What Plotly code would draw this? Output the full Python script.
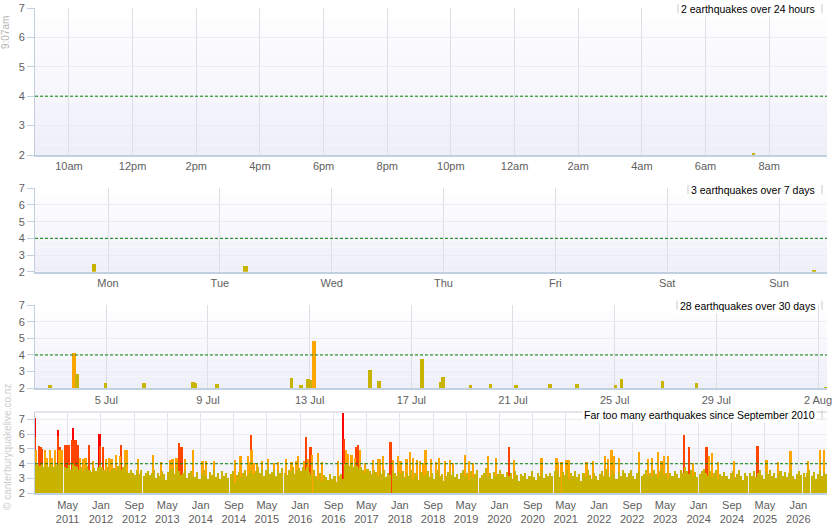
import pandas as pd
import plotly.graph_objects as go

# %%
# Last 30 days of quakes (NZ time) and their magnitudes
recent_times = ["2026-07-02 19:00", "2026-07-03 17:30", "2026-07-03 20:30", "2026-07-04 23:00",
                "2026-07-06 11:30", "2026-07-08 10:00", "2026-07-08 12:00", "2026-07-09 08:30",
                "2026-07-12 07:00", "2026-07-12 16:00", "2026-07-12 22:30", "2026-07-13 01:00",
                "2026-07-13 04:00", "2026-07-15 09:00", "2026-07-15 17:30", "2026-07-17 10:00",
                "2026-07-18 03:30", "2026-07-18 06:00", "2026-07-19 07:45", "2026-07-20 02:30",
                "2026-07-21 03:00", "2026-07-22 11:00", "2026-07-23 12:30", "2026-07-25 01:00",
                "2026-07-25 06:45", "2026-07-26 21:00", "2026-07-28 05:30", "2026-08-02 07:30"]
recent_mags = [2.2, 4.1, 2.86, 2.3,
               2.3, 2.36, 2.3, 2.24,
               2.6, 2.2, 2.56, 2.5,
               4.84, 3.1, 2.44, 3.76,
               2.36, 2.7, 2.2, 2.26,
               2.2, 2.26, 2.26, 2.2,
               2.56, 2.44, 2.3, 2.06]

# %%
# The bigger ones (M4+) since Sept 2010
spike_dates = ["2010-09-05", "2010-09-08", "2010-09-12", "2010-10-04", "2010-10-17", "2010-10-27", "2010-11-16", "2010-12-03", "2010-12-23",
               "2011-01-06", "2011-01-28", "2011-02-22", "2011-02-24", "2011-02-27", "2011-03-10", "2011-03-20", "2011-04-16", "2011-05-01", "2011-05-13",
               "2011-06-07", "2011-06-13", "2011-06-29", "2011-07-18", "2011-08-04", "2011-08-24", "2011-09-12", "2011-10-07", "2011-11-05", "2011-12-23", "2011-12-27",
               "2012-01-17", "2012-02-11", "2012-03-01", "2012-03-19", "2012-04-20", "2012-05-19", "2012-05-31", "2012-06-25", "2012-07-12", "2012-10-01",
               "2013-01-18", "2013-03-20", "2013-05-21", "2013-06-10", "2013-07-09", "2013-07-26", "2013-08-15", "2013-09-08", "2013-11-06", "2014-01-16", "2014-02-10", "2014-04-11",
               "2014-09-14", "2014-10-21", "2014-12-16", "2014-12-28", "2015-01-06", "2015-01-10", "2015-01-26", "2015-02-20", "2015-03-28", "2015-05-12", "2015-06-25", "2015-07-24", "2015-09-23", "2015-10-30", "2015-12-06", "2015-12-18",
               "2016-01-31", "2016-02-14", "2016-03-01", "2016-03-18", "2016-03-28", "2016-05-14", "2016-06-08", "2016-10-08", "2016-11-14", "2016-11-20", "2016-12-02", "2016-12-19",
               "2017-01-12", "2017-02-06", "2017-02-18", "2017-03-04", "2017-03-14", "2017-04-20", "2017-06-20", "2017-07-27", "2017-08-11", "2017-09-02", "2017-10-26", "2017-11-14", "2017-12-21",
               "2018-01-07", "2018-02-20", "2018-03-16", "2018-04-10", "2018-05-11", "2018-05-28", "2018-06-22", "2018-07-09", "2018-08-18", "2018-09-24", "2018-10-16", "2018-11-29",
               "2019-01-04", "2019-01-28", "2019-04-23", "2019-05-26", "2019-06-24", "2019-10-12", "2019-12-07", "2020-03-14", "2020-04-20", "2020-11-06",
               "2021-02-24", "2021-03-08", "2021-04-02", "2021-05-09", "2021-05-23", "2021-10-02", "2021-11-20", "2022-02-14", "2022-03-10", "2022-04-04", "2022-04-21", "2022-05-30", "2022-10-22", "2022-12-28",
               "2023-01-26", "2023-03-11", "2023-04-05", "2023-04-22", "2023-05-23", "2023-09-18", "2023-10-22", "2023-11-23", "2024-02-29", "2024-03-17", "2024-04-10", "2024-05-25", "2024-09-20",
               "2025-03-10", "2025-05-15", "2025-08-08", "2025-11-06", "2026-03-16", "2026-06-09", "2026-07-11"]
spike_mags = [7.1, 5.8, 4.9, 5.2, 5.15, 5.0, 4.9, 4.4, 4.9,
              4.4, 4.95, 6.3, 5.9, 4.9, 5.1, 4.9, 5.3, 5.3, 5.3,
              5.6, 6.4, 5.6, 5.3, 4.4, 4.3, 4.4, 5.3, 4.2, 6.0, 5.2,
              5.1, 4.3, 4.4, 4.3, 4.6, 4.5, 5.25, 4.9, 4.9, 4.3,
              4.6, 4.1, 4.25, 4.3, 4.4, 5.4, 5.15, 4.3, 4.9, 4.2, 4.2, 4.2,
              4.27, 4.5, 4.5, 4.1, 5.95, 4.9, 4.05, 4.05, 4.2, 4.3, 4.05, 4.1, 4.3, 4.1, 4.2, 4.5,
              4.2, 5.8, 4.3, 5.1, 4.6, 4.7, 4.15, 4.2, 7.8, 5.7, 4.9, 4.65,
              4.6, 4.4, 5.15, 5.25, 4.9, 4.05, 4.25, 4.3, 4.3, 4.5, 5.45, 4.27, 4.55,
              4.2, 4.3, 4.8, 4.4, 4.25, 4.2, 4.05, 4.9, 4.3, 4.1, 4.4, 4.2,
              4.27, 4.05, 4.6, 4.2, 4.05, 4.5, 4.4, 5.1, 4.25, 4.4,
              4.4, 4.1, 4.15, 4.25, 4.25, 4.1, 4.2, 4.5, 4.3, 4.93, 4.55, 4.4, 4.77, 4.3,
              4.4, 4.77, 4.2, 4.5, 4.55, 5.95, 5.1, 4.05, 5.1, 4.5, 4.7, 4.1, 4.2,
              5.18, 4.25, 4.1, 4.84, 4.2, 4.9, 4.9]
assert len(spike_dates) == len(spike_mags)

# %%
# Top of the small stuff (< M4), read off two per month
olive_2010 = [3.95, 3.9, 3.85, 3.95, 3.8, 3.9, 3.75, 3.9]  # Sep - Dec
olive_2011 = [3.85, 3.8, 3.9, 3.95, 3.85, 3.9, 3.8, 3.7, 3.9, 3.6, 3.95, 3.85, 3.75, 3.6, 3.8, 3.5, 3.7, 3.85, 3.6, 3.45, 3.7, 3.5, 3.8, 3.9]
olive_2012 = [3.75, 3.6, 3.5, 3.8, 3.45, 3.65, 3.7, 3.55, 3.85, 3.6, 3.75, 3.9, 3.5, 3.35, 3.6, 3.4, 3.25, 3.55, 3.3, 3.6, 3.15, 3.4, 3.5, 3.25]
olive_2013 = [3.35, 3.6, 3.05, 3.4, 3.2, 3.5, 3.3, 2.9, 3.45, 3.6, 3.7, 3.3, 3.75, 3.5, 3.25, 3.4, 3.6, 3.05, 3.35, 3.5, 3.2, 3.1, 3.45, 3.0]
olive_2014 = [3.3, 3.55, 3.2, 3.0, 3.45, 3.25, 3.6, 3.1, 3.35, 2.95, 3.5, 3.2, 3.4, 3.05, 3.3, 3.5, 2.7, 3.25, 3.45, 3.1, 3.35, 3.55, 3.2, 3.4]
olive_2015 = [3.6, 3.3, 3.5, 3.75, 3.4, 3.65, 3.2, 3.55, 3.7, 3.3, 3.45, 3.6, 3.15, 3.5, 3.35, 3.7, 3.4, 3.25, 3.6, 3.5, 3.8, 3.3, 3.55, 3.7]
olive_2016 = [3.5, 3.8, 3.6, 3.75, 3.45, 3.3, 3.55, 3.2, 3.0, 3.35, 2.8, 3.25, 3.1, 2.9, 3.3, 3.0, 3.2, 2.75, 3.15, 3.3, 3.0, 3.95, 3.9, 3.85]
olive_2017 = [3.95, 3.8, 3.9, 3.85, 3.7, 3.75, 3.6, 3.4, 3.65, 3.5, 3.3, 3.55, 3.45, 3.2, 3.5, 3.3, 3.6, 3.1, 3.4, 3.25, 3.5, 3.35, 3.15, 3.45]
olive_2018 = [3.3, 3.5, 3.1, 3.4, 3.2, 3.55, 3.0, 3.35, 3.25, 2.9, 3.45, 3.2, 3.3, 3.5, 3.1, 3.35, 3.0, 3.4, 3.6, 3.15, 3.3, 2.85, 3.2, 3.45]
olive_2019 = [3.25, 3.5, 3.1, 3.3, 3.0, 3.4, 3.6, 3.2, 3.35, 2.9, 3.5, 3.1, 3.3, 3.55, 3.05, 3.25, 3.4, 3.7, 3.15, 3.35, 3.0, 3.45, 3.2, 3.3]
olive_2020 = [3.6, 3.3, 3.1, 3.45, 3.2, 3.35, 3.0, 3.5, 3.25, 2.8, 3.3, 3.15, 3.4, 3.0, 3.2, 3.5, 3.1, 2.9, 3.35, 3.2, 3.55, 3.05, 3.3, 3.15]
olive_2021 = [3.4, 3.2, 3.5, 3.65, 3.3, 3.1, 3.45, 3.25, 3.6, 3.0, 3.35, 3.2, 3.5, 3.1, 3.3, 2.85, 3.4, 3.15, 3.55, 3.25, 3.0, 3.35, 3.2, 2.9]
olive_2022 = [3.3, 3.5, 3.2, 3.65, 3.4, 3.1, 3.55, 3.3, 3.0, 3.45, 3.2, 3.6, 3.35, 3.1, 3.4, 3.55, 3.2, 3.0, 3.35, 3.5, 3.15, 3.3, 3.6, 3.25]
olive_2023 = [3.4, 3.2, 3.55, 3.3, 3.1, 3.5, 3.7, 3.25, 3.4, 3.0, 3.35, 3.15, 3.5, 3.3, 3.05, 3.6, 3.4, 3.75, 3.5, 3.3, 3.55, 3.2, 3.45, 3.1]
olive_2024 = [3.3, 3.5, 3.65, 3.4, 3.2, 3.5, 3.1, 3.35, 3.55, 3.0, 3.3, 3.15, 3.45, 3.2, 2.95, 3.35, 3.5, 3.1, 3.3, 3.6, 3.2, 2.9, 3.35, 3.15]
olive_2025 = [3.4, 3.2, 3.5, 3.1, 3.35, 3.6, 3.25, 3.0, 3.45, 3.3, 3.55, 3.15, 3.4, 3.05, 3.3, 3.5, 3.2, 3.45, 3.1, 3.35, 3.55, 3.2, 3.0, 3.3]
olive_2026 = [3.5, 3.25, 3.4, 3.1, 3.35, 3.6, 3.2, 3.45, 3.0, 3.3, 3.55, 3.15, 3.4, 3.3]  # Jan - Jul

hour_labels = ["10am", "12pm", "2pm", "4pm", "6pm", "8pm", "10pm", "12am", "2am", "4am", "6am", "8am"]
alert_level = 4

# %%
OLIVE = "#C8B400"
ORANGE = "#FFA500"
ORANGERED = "#FF4500"
RED = "#FF0000"
FONT = "Liberation Sans, Arial, sans-serif"


def mag_colour(m):
    if m >= 6:
        return RED
    if m >= 5:
        return ORANGERED
    if m >= 4:
        return ORANGE
    return OLIVE


# half-month bins for the background mass
olive_years = [olive_2010, olive_2011, olive_2012, olive_2013, olive_2014, olive_2015,
               olive_2016, olive_2017, olive_2018, olive_2019, olive_2020, olive_2021,
               olive_2022, olive_2023, olive_2024, olive_2025, olive_2026]
olive_x, olive_y = [], []
for i, vals in enumerate(olive_years):
    year = 2010 + i
    first_month = 9 if year == 2010 else 1
    for j, v in enumerate(vals):
        olive_x.append(pd.Timestamp(year, first_month + j // 2, 8 if j % 2 == 0 else 23, 12))
        olive_y.append(v)

DAY = 86400000
fig = go.Figure()

# recent quakes, same data on the 24h / 7 day / 30 day panels
recent_colours = [mag_colour(m) for m in recent_mags]
for n, w in [("", 384000), ("2", 3500000), ("3", 11500000)]:
    fig.add_trace(go.Bar(x=pd.to_datetime(recent_times), y=recent_mags, width=w,
                         marker=dict(color=recent_colours, line=dict(width=0)),
                         xaxis="x" + n, yaxis="y" + n, showlegend=False))

# since 2010: big ones first, small stuff drawn over the top
for lo, hi, col in [(6, 99, RED), (5, 6, ORANGERED), (4, 5, ORANGE)]:
    xs = [pd.Timestamp(d) for d, m in zip(spike_dates, spike_mags) if lo <= m < hi]
    ys = [m for m in spike_mags if lo <= m < hi]
    fig.add_trace(go.Bar(x=xs, y=ys, width=13 * DAY, marker=dict(color=col, line=dict(width=0)),
                         xaxis="x4", yaxis="y4", showlegend=False))
fig.add_trace(go.Bar(x=olive_x, y=olive_y, width=15 * DAY, marker=dict(color=OLIVE, line=dict(width=0)),
                     xaxis="x4", yaxis="y4", showlegend=False))

# %%
W, H = 835, 530
# panel pixel extents (top, bottom)
panels = [(8, 155), (188.3, 271.7), (305, 388.3), (412, 493.3)]
tick_font = dict(family=FONT, size=11, color="#606060")

x_common = dict(showgrid=True, gridcolor="#DEDEE6", showline=True, linecolor="#C0D0E0", linewidth=2,
                ticks="", tickfont=tick_font, zeroline=False, automargin=False, fixedrange=True)
y_common = dict(dtick=1, tick0=2, showgrid=True, gridcolor="#EBEBF2", showline=True,
                linecolor="#C0D0E0", linewidth=1, ticks="outside", ticklen=7, tickcolor="#C0D0E0",
                tickfont=tick_font, zeroline=False, automargin=False, fixedrange=True)

layout = dict(width=W, height=H, margin=dict(l=35, r=8, t=0, b=0, pad=0),
              paper_bgcolor="white", plot_bgcolor="white", barmode="overlay",
              font=dict(family=FONT), template="none", showlegend=False, bargap=0)

x_ranges = [["2026-08-01 08:56", "2026-08-02 09:49"],
            ["2026-07-26 08:20", "2026-08-02 10:18"],
            ["2026-07-02 04:41", "2026-08-02 08:30"],
            ["2010-09-04", "2026-07-30 12:00"]]
y_ranges = [[2, 7], [2, 7], [2, 7], [2, 7.5]]

shapes = []
for i, (top, bottom) in enumerate(panels):
    n = "" if i == 0 else str(i + 1)
    xa = dict(x_common, type="date", range=x_ranges[i], anchor="y" + n)
    ya = dict(y_common, range=y_ranges[i], domain=[1 - bottom / H, 1 - top / H], anchor="x" + n)
    layout["xaxis" + n] = xa
    layout["yaxis" + n] = ya
    # soft vertical gradient behind each plot
    bands = 14
    for b in range(bands):
        f = b / (bands - 1)
        c = "rgb(%d,%d,%d)" % (239 + 16 * f, 239 + 16 * f, 250 + 5 * f)
        shapes.append(dict(type="rect", xref="x%s domain" % n, yref="y%s domain" % n,
                           x0=0, x1=1, y0=b / bands, y1=(b + 1) / bands,
                           fillcolor=c, line=dict(width=0), layer="below"))
    shapes.append(dict(type="line", xref="x%s domain" % n, yref="y" + n, x0=0, x1=1,
                       y0=alert_level, y1=alert_level, line=dict(color="#008000", width=1, dash="3px,2px"),
                       layer="above"))

shapes.append(dict(type="line", xref="x4 domain", yref="y4 domain", x0=0, x1=1, y0=1, y1=1,
                   line=dict(color="#E4E4EA", width=2), layer="above"))

layout["xaxis"].update(tickvals=list(pd.date_range("2026-08-01 10:00", periods=12, freq="2h")),
                       ticktext=hour_labels)
layout["xaxis2"].update(tickformat="%a", dtick=DAY, tick0="2026-07-27")
layout["xaxis3"].update(tickformat="%-d %b", dtick=4 * DAY, tick0="2026-07-05")
layout["xaxis4"].update(tickformat="%b<br>%Y", dtick="M8", tick0="2011-05-01", gridcolor="#E2E2EA")

titles = ["2 earthquakes over 24 hours", "3 earthquakes over 7 days",
          "28 earthquakes over 30 days", "Far too many earthquakes since September 2010"]
title_y = [9.3, 190, 305.7, 415.3]
box_left = [678, 688, 677, 584]   # left side of each title box, px


def px_x(p):
    return (p - 35) / (W - 43)


ann = []
for t, ty, bl in zip(titles, title_y, box_left):
    ann.append(dict(text=t, x=px_x(817), y=1 - ty / H, xref="paper", yref="paper",
                    xanchor="right", yanchor="middle", showarrow=False, bgcolor="white",
                    borderpad=1, font=dict(family=FONT, size=10.5, color="#000000")))
    # little grey edges either side of the label box
    for ex in (bl, 822):
        shapes.append(dict(type="line", xref="paper", yref="paper", x0=px_x(ex), x1=px_x(ex),
                           y0=1 - (ty - 5) / H, y1=1 - (ty + 4) / H,
                           line=dict(color="#C8C8C8", width=1), layer="above"))
ann.append(dict(text="9:07am", x=px_x(6), y=1 - 33 / H, xref="paper", yref="paper",
                xanchor="center", yanchor="middle", textangle=-90, showarrow=False,
                font=dict(family=FONT, size=10, color="#B4B4B4")))
ann.append(dict(text="© canterburyquakelive.co.nz", x=px_x(7), y=1 - 447 / H,
                xref="paper", yref="paper", xanchor="center", yanchor="middle",
                textangle=-90, showarrow=False,
                font=dict(family=FONT, size=10, color="#CCCCCC")))
layout["annotations"] = ann
layout["shapes"] = shapes

fig.update_layout(**layout)
# page margin off so the chart sits flush in the window
fig.write_html("out.html", config={"displayModeBar": False},
               post_script="document.body.style.margin='0px';")
